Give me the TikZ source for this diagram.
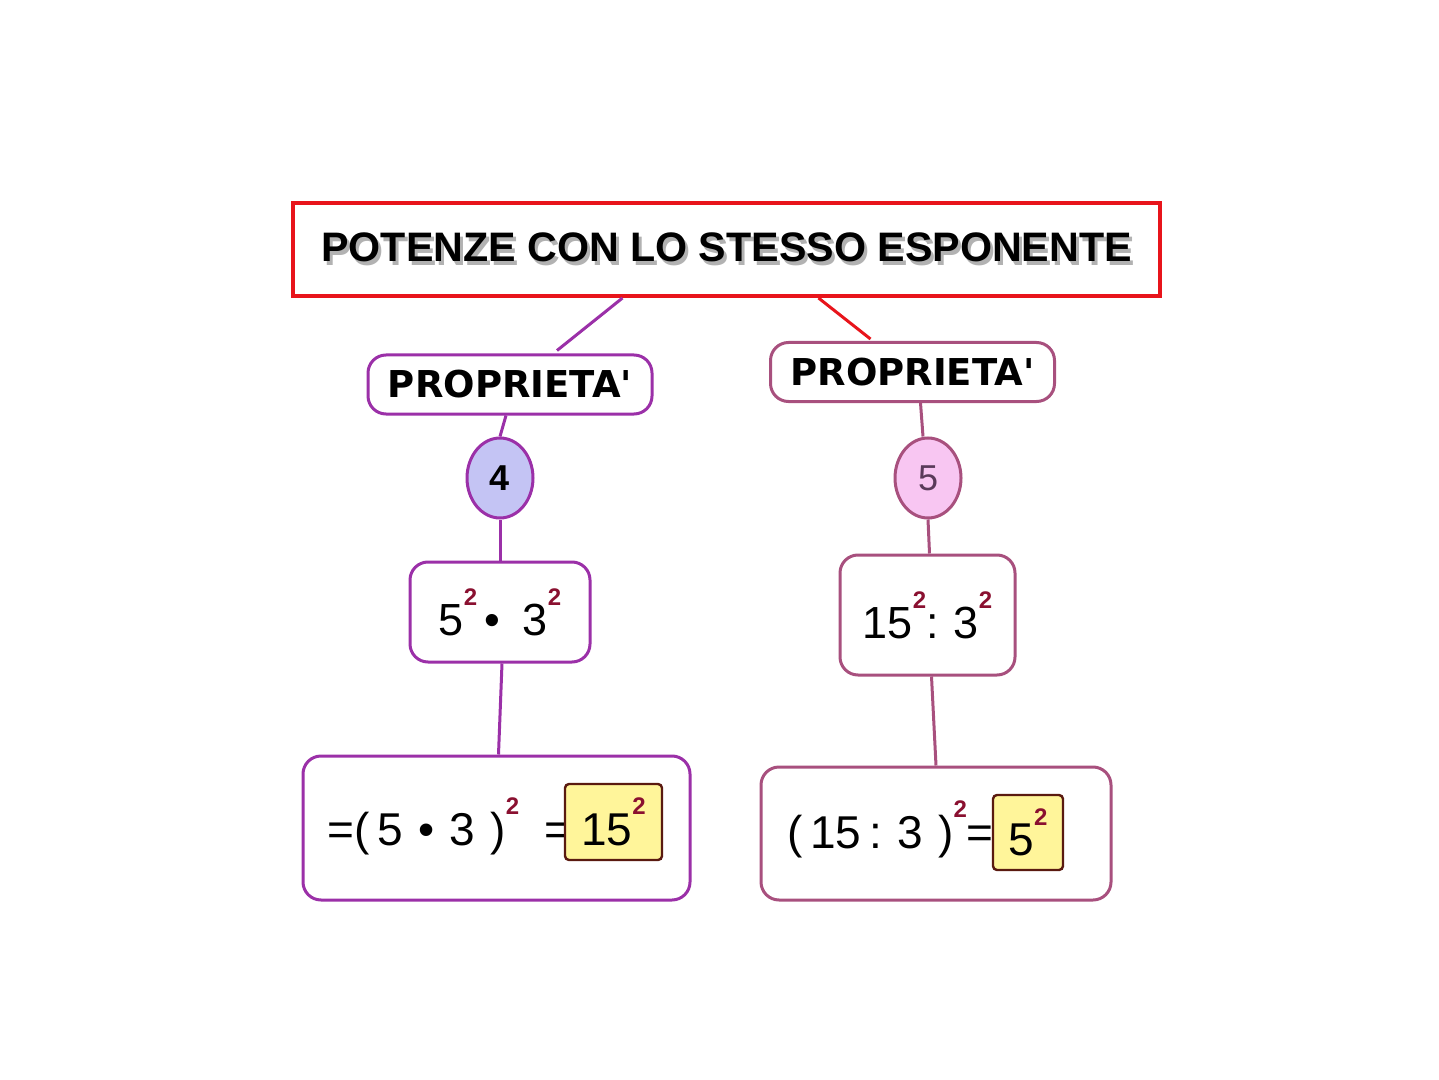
\documentclass[tikz,border=0pt]{standalone}
\usepackage{fontspec}
\setmainfont{Liberation Sans}
\newfontfamily\propfont{DejaVu Sans}
\usetikzlibrary{shapes.geometric,calc}

\definecolor{titlered}{HTML}{E8141B}
\definecolor{leftpurple}{HTML}{9B30A8}
\definecolor{rightmauve}{HTML}{A8507E}
\definecolor{ovalblue}{HTML}{C4C4F4}
\definecolor{ovalpink}{HTML}{F8C6F2}
\definecolor{ansyellow}{HTML}{FFF59A}
\definecolor{ansbrown}{HTML}{5A1A10}
\definecolor{expred}{HTML}{8A1030}
\definecolor{fivegray}{HTML}{5A3A5A}

\newcommand{\expo}{\raisebox{1.25ex}{\fontsize{12}{12}\selectfont\bfseries\color{expred}2}}
\newcommand{\titletext}{POTENZE CON LO STESSO ESPONENTE}

\begin{document}
\begin{tikzpicture}
                    [x=0.5pt,y=-0.5pt,
                     titlebox/.style={draw=titlered,line width=2pt,minimum width=433.5pt,minimum height=46.5pt,inner sep=0pt,
                                      font=\bfseries\fontsize{20.6}{22}\selectfont},
                     propbox/.style={draw,rounded corners=9pt,line width=1.5pt,minimum width=142pt,minimum height=29.5pt,inner sep=0pt,
                                     font=\propfont\bfseries\fontsize{18.5}{20}\selectfont},
                     oval/.style={draw,ellipse,line width=1.5pt,minimum width=33pt,minimum height=40pt,inner sep=0pt,
                                  font=\fontsize{18}{20}\selectfont},
                     calcbox/.style={draw,rounded corners=9pt,line width=1.5pt,inner sep=0pt,font=\fontsize{22.5}{24}\selectfont},
                     restext/.style={anchor=base west,inner sep=0pt,font=\fontsize{23}{26}\selectfont},
                     ansbox/.style={draw=ansbrown,fill=ansyellow,line width=1.2pt,rounded corners=2pt,inner sep=0pt,
                                    font=\fontsize{23}{26}\selectfont},
                     link/.style={line width=1.5pt}]

                    \useasboundingbox (0,0) rectangle (1439,1080);

                    % title
                    \node[titlebox] (title) at (726.5,249.5)
                        {\makebox[0pt][l]{\kern1.5pt\raisebox{-2pt}{\color{black!30}\titletext}}\titletext};

                    % left branch
                    \node[propbox,draw=leftpurple] (propL) at (510,384.5) {PROPRIETA'};
                    \node[oval,draw=leftpurple,fill=ovalblue,font=\fontsize{18}{20}\selectfont\bfseries] (numL) at (500,478) {4};
                    \node[calcbox,draw=leftpurple,minimum width=90pt,minimum height=50pt] (calcL) at (500,612)
                        {5\expo\,•\,\,\,3\expo};
                    \node[calcbox,draw=leftpurple,minimum width=193.5pt,minimum height=72pt] (resL) at (496.5,828) {};
                    \node[restext] (resLtxt) at (327,845) {=(\,5\,\,•\,\,3\,\,)\expo\ \ =};
                    \node[ansbox,minimum width=48.5pt,minimum height=38pt] (ansL) at (613.5,822) {15\expo};

                    % right branch
                    \node[propbox,draw=rightmauve] (propR) at (912.5,372) {PROPRIETA'};
                    \node[oval,draw=rightmauve,fill=ovalpink,text=fivegray] (numR) at (928,478) {5};
                    \node[calcbox,draw=rightmauve,minimum width=87.5pt,minimum height=60pt] (calcR) at (927.5,615)
                        {15\expo:\,\,3\expo};
                    \node[calcbox,draw=rightmauve,minimum width=175pt,minimum height=66.5pt] (resR) at (936,833.5) {};
                    \node[restext] (resRtxt) at (787,848) {(\,15\,:\,\,3\,\,)\expo=};
                    \node[ansbox,minimum width=35pt,minimum height=37.5pt] (ansR) at (1028,832.5) {5\expo};

                    % connectors
                    \draw[link,leftpurple] ($(title.south)+(-104,0)$) -- ($(propL.north)+(47,-3)$);
                    \draw[link,titlered] ($(title.south)+(92,0)$) -- ($(propR.north)+(-42,-2)$);
                    \draw[link,leftpurple] ($(propL.south)+(-4,0)$) -- (numL.north);
                    \draw[link,rightmauve] ($(propR.south)+(8,0)$) -- ($(numR.north)+(-5,0)$);
                    \draw[link,leftpurple] (numL.south) -- (calcL.north);
                    \draw[link,rightmauve] (numR.south) -- ($(calcR.north)+(2,0)$);
                    \draw[link,leftpurple] ($(calcL.south)+(2,0)$) -- ($(resL.north)+(2,0)$);
                    \draw[link,rightmauve] ($(calcR.south)+(4,0)$) -- (resR.north);

                \end{tikzpicture}
\end{document}
